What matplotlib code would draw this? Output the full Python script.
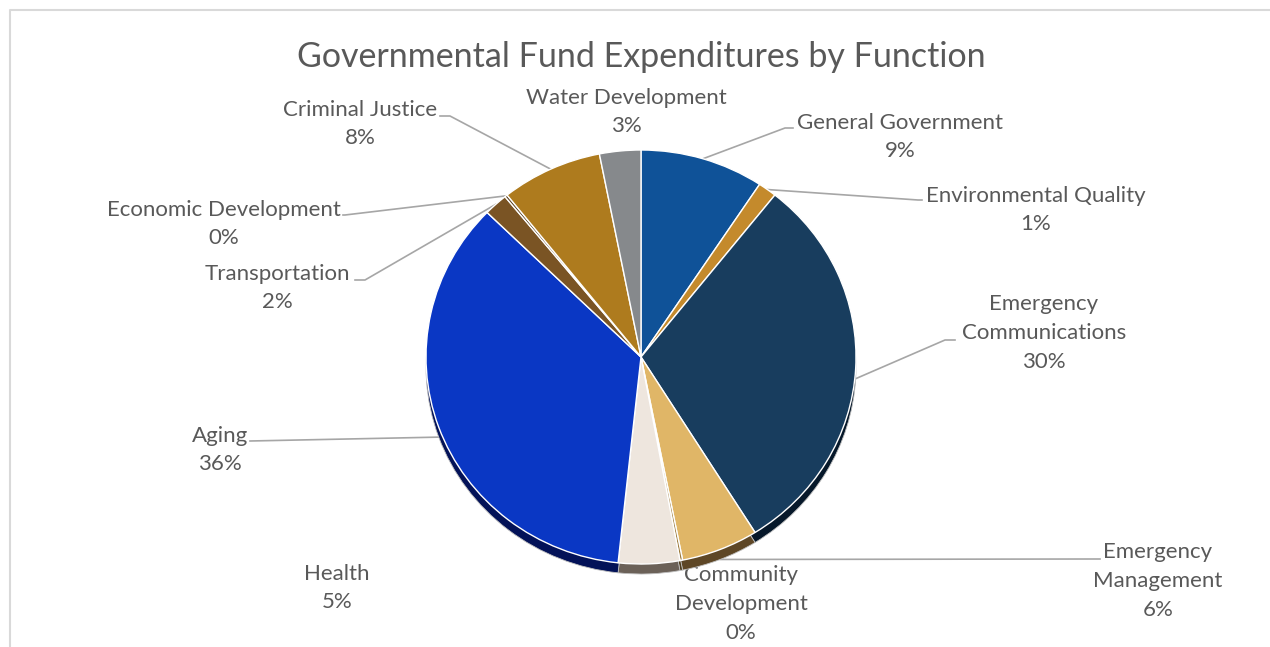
import numpy as np
import matplotlib

matplotlib.use("Agg")
import matplotlib.pyplot as plt

# ---------------- Data ----------------

categories = [
    "General Government", "Environmental Quality", "Emergency\nCommunications",
    "Emergency\nManagement", "Community\nDevelopment", "Health", "Aging",
    "Transportation", "Economic Development", "Criminal Justice", "Water Development",
]
shares = [9.3, 1.4, 30.4, 5.8, 0.2, 4.6, 35.6, 1.8, 0.2, 7.6, 3.1]
colors = ["#0F5298", "#C48A2C", "#183D5E", "#E0B667", "#9C7A3C", "#EEE6DE",
          "#0A37C4", "#7A5424", "#5A4020", "#AE7B1E", "#86898C"]
side_colors = ["#07294C", "#62451A", "#06182A", "#5E4726", "#4E3D1E", "#6B6158",
               "#031258", "#3D2A12", "#2D2010", "#57400F", "#434546"]

TITLE = "Governmental Fund Expenditures by Function"

# label layout (pixel coords): text centre, elbow point, end of leader (None = no leader)
label_pos = [(900, 137), (1036, 210), (1044, 333), (1158, 581), (741, 604), (337, 588),
             (220, 450), (277, 288), (224, 224), (360, 124), (626, 112)]
elbows = [(785, 128), (918, 200), (945, 340), (1097, 559), None, None,
          (250, 441), (365, 280), (345, 215), (450, 116), None]
leader_ends = [(793, 128), (922, 200), (955, 340), (1100, 559), None, None,
               (250, 441), (355, 280), (343, 215), (440, 116), None]

# ---------------- Figure ----------------

W, H = 1270, 647
CX, CY, RX, RY, DEPTH = 641, 357, 215, 207, 10
TEXT = "#595959"
LINE = "#A6A6A6"
FONT = "Lato"

fig = plt.figure(figsize=(W / 100, H / 100), dpi=100)

# overlay in pixel coordinates for text, leaders and frame
ov = fig.add_axes([0, 0, 1, 1])
ov.set_xlim(0, W)
ov.set_ylim(H, 0)
ov.axis("off")
ov.plot([10, 10, W], [H, 10, 10], color="#D9D9D9", lw=1.5)

# pie axes: x spans 2*RX px, y in units of RY px (gives the slight ellipse)
ylow = -(RY + DEPTH + 2) / RY
ax = fig.add_axes([(CX - RX) / W, (H - CY + ylow * RY) / H, 2 * RX / W,
                   (RY - ylow * RY) / H])

common = dict(startangle=90, counterclock=False, radius=1.0)
ax.pie(shares, colors=side_colors, center=(0, -DEPTH / RY),
       wedgeprops=dict(edgecolor="#BFBFBF", linewidth=0.6), **common)
ax.pie(shares, colors=colors,
       wedgeprops=dict(edgecolor="white", linewidth=1.0), **common)
ax.set_aspect("auto")
ax.set_xlim(-1, 1)
ax.set_ylim(ylow, 1)
ax.axis("off")

# leader lines anchored at slice mid-angles
cum = np.cumsum(shares) - np.array(shares) / 2
total = sum(shares)
for i, name in enumerate(categories):
    theta = np.deg2rad(cum[i] / total * 360)
    ax_x = CX + RX * np.sin(theta)
    ax_y = CY - RY * np.cos(theta)
    if np.cos(theta) < 0:
        ax_y += DEPTH
    if elbows[i] is not None:
        ov.plot([ax_x, elbows[i][0], leader_ends[i][0]],
                [ax_y, elbows[i][1], leader_ends[i][1]], color=LINE, lw=1.2)
    pct = f"{shares[i] / total * 100:.0f}%"
    ov.text(label_pos[i][0], label_pos[i][1], f"{name}\n{pct}", ha="center",
            va="center", color=TEXT, fontsize=16, family=FONT, linespacing=1.56)

ov.text(641, 57, TITLE, ha="center", va="center", color=TEXT, fontsize=24.5,
        family=FONT)

fig.savefig("out.png", dpi=100)
